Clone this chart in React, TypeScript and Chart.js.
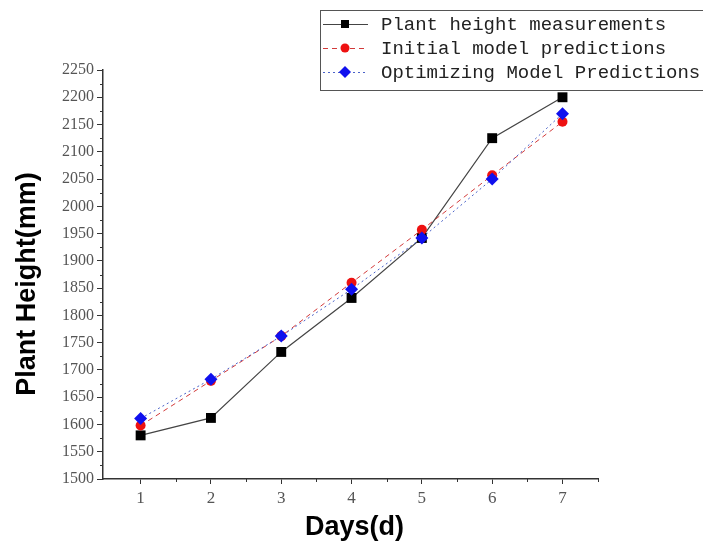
import React, { useEffect, useRef } from "react";
import { Chart, registerables } from "chart.js";

Chart.register(...registerables);

const days = [1, 2, 3, 4, 5, 6, 7];
const measured = [1580, 1612, 1733, 1832, 1942, 2125, 2200];
const initialPred = [1598, 1680, 1762, 1860, 1957, 2057, 2155];
const optimizedPred = [1611, 1683, 1762, 1848, 1942, 2050, 2170];
const seriesNames = [
  "Plant height measurements",
  "Initial model predictions",
  "Optimizing Model Predictions",
];
const xTitle = "Days(d)";
const yTitle = "Plant Height(mm)";

const CA = { left: 103, right: 598, top: 70, bottom: 479 };

const decorPlugin = {
  id: "decor",
  afterDraw(chart: any) {
    const ctx = chart.ctx;
    const xs = chart.scales.x;
    const ys = chart.scales.y;
    ctx.save();
    // minor ticks
    ctx.strokeStyle = "#333";
    ctx.lineWidth = 1;
    ctx.beginPath();
    for (let v = 1.5; v < 7.6; v += 1) {
      const px = Math.round(xs.getPixelForValue(v)) + 0.5;
      if (px > xs.right + 1) continue;
      ctx.moveTo(px, ys.bottom);
      ctx.lineTo(px, ys.bottom + 3);
    }
    for (let v = 1525; v < 2250; v += 50) {
      const py = Math.round(ys.getPixelForValue(v)) + 0.5;
      ctx.moveTo(xs.left, py);
      ctx.lineTo(xs.left - 3, py);
    }
    ctx.stroke();

    // axis titles
    ctx.fillStyle = "#000";
    ctx.font = "bold 27px 'Liberation Sans', Arial, sans-serif";
    ctx.textAlign = "center";
    ctx.textBaseline = "middle";
    ctx.fillText(xTitle, (xs.left + xs.right) / 2 + 4, 528);
    ctx.save();
    ctx.translate(28, 284);
    ctx.rotate(-Math.PI / 2);
    ctx.fillText(yTitle, 0, 0);
    ctx.restore();

    // legend
    const bx = 320, by = 10, bw = 400, bh = 80;
    ctx.strokeStyle = "#555";
    ctx.lineWidth = 1;
    ctx.strokeRect(bx + 0.5, by + 0.5, bw, bh);
    const ds = chart.data.datasets;
    ctx.font = "19px 'Liberation Mono', 'DejaVu Sans Mono', monospace";
    ctx.textAlign = "left";
    ctx.textBaseline = "middle";
    for (let i = 0; i < ds.length; i++) {
      const d = ds[i];
      const cy = by + 14 + i * 24;
      ctx.save();
      ctx.strokeStyle = d.borderColor;
      ctx.lineWidth = 1;
      ctx.setLineDash(d.borderDash || []);
      ctx.beginPath();
      ctx.moveTo(bx + 3, cy + 0.5);
      ctx.lineTo(bx + 48, cy + 0.5);
      ctx.stroke();
      ctx.restore();
      ctx.fillStyle = d.pointBackgroundColor;
      const mx = bx + 25;
      if (d.pointStyle === "rect") {
        ctx.fillRect(mx - 4, cy - 4, 8, 8);
      } else if (d.pointStyle === "circle") {
        ctx.beginPath();
        ctx.arc(mx, cy, 4.5, 0, Math.PI * 2);
        ctx.fill();
      } else {
        ctx.beginPath();
        ctx.moveTo(mx, cy - 6);
        ctx.lineTo(mx + 6, cy);
        ctx.lineTo(mx, cy + 6);
        ctx.lineTo(mx - 6, cy);
        ctx.closePath();
        ctx.fill();
      }
      ctx.fillStyle = "#222";
      ctx.fillText(seriesNames[i], bx + 61, cy + 1);
    }
    ctx.restore();
  },
};

export default function App() {
  const ref = useRef<HTMLCanvasElement>(null);
  useEffect(() => {
    const mk = (vals: number[]) => days.map((d, i) => ({ x: d, y: vals[i] }));
    const chart = new Chart(ref.current as HTMLCanvasElement, {
      type: "line",
      data: {
        datasets: [
          {
            label: seriesNames[0],
            data: mk(measured),
            borderColor: "#444",
            borderWidth: 1.2,
            pointStyle: "rect",
            pointRadius: 7,
            pointBackgroundColor: "#000",
            pointBorderColor: "#000",
            pointBorderWidth: 0,
            order: 3,
          },
          {
            label: seriesNames[1],
            data: mk(initialPred),
            borderColor: "#d23a3a",
            borderWidth: 1,
            borderDash: [5, 4],
            pointStyle: "circle",
            pointRadius: 5,
            pointBackgroundColor: "#ee1111",
            pointBorderColor: "#ee1111",
            pointBorderWidth: 0,
            order: 2,
          },
          {
            label: seriesNames[2],
            data: mk(optimizedPred),
            borderColor: "#4a62c8",
            borderWidth: 1,
            borderDash: [2, 3],
            pointStyle: "rectRot",
            pointRadius: 6.5,
            pointBackgroundColor: "#1010ee",
            pointBorderColor: "#1010ee",
            pointBorderWidth: 0,
            order: 1,
          },
        ] as any,
      },
      options: {
        animation: false,
        responsive: false,
        maintainAspectRatio: false,
        layout: { padding: { top: CA.top, right: 703 - CA.right, left: 0, bottom: 0 } },
        plugins: { legend: { display: false }, tooltip: { enabled: false }, title: { display: false } },
        scales: {
          x: {
            type: "linear",
            min: 0.465,
            max: 7.505,
            afterBuildTicks: (s: any) => {
              s.ticks = days.map((v) => ({ value: v }));
            },
            afterFit: (s: any) => {
              s.height = 550 - CA.bottom;
            },
            grid: { drawOnChartArea: false, drawTicks: true, tickLength: 5, color: "#333", lineWidth: 1 },
            border: { display: true, color: "#333", width: 1.5 },
            ticks: {
              color: "#555",
              font: { family: "'Liberation Serif', 'DejaVu Serif', serif", size: 17 },
              padding: 4,
              autoSkip: false,
              maxRotation: 0,
              callback: (v: any) => String(v),
            },
          },
          y: {
            type: "linear",
            min: 1500,
            max: 2250,
            afterFit: (s: any) => {
              s.width = CA.left;
            },
            grid: { drawOnChartArea: false, drawTicks: true, tickLength: 6, color: "#333", lineWidth: 1 },
            border: { display: true, color: "#333", width: 1.5 },
            ticks: {
              stepSize: 50,
              color: "#555",
              font: { family: "'Liberation Serif', 'DejaVu Serif', serif", size: 16 },
              padding: 3,
              autoSkip: false,
              callback: (v: any) => String(v),
            },
          },
        },
      } as any,
      plugins: [decorPlugin],
    });
    return () => chart.destroy();
  }, []);
  return (
    <div style={{ position: "fixed", left: 0, top: 0, width: 703, height: 550, background: "#fff" }}>
      <canvas ref={ref} width={703} height={550} style={{ width: 703, height: 550 }} />
    </div>
  );
}
